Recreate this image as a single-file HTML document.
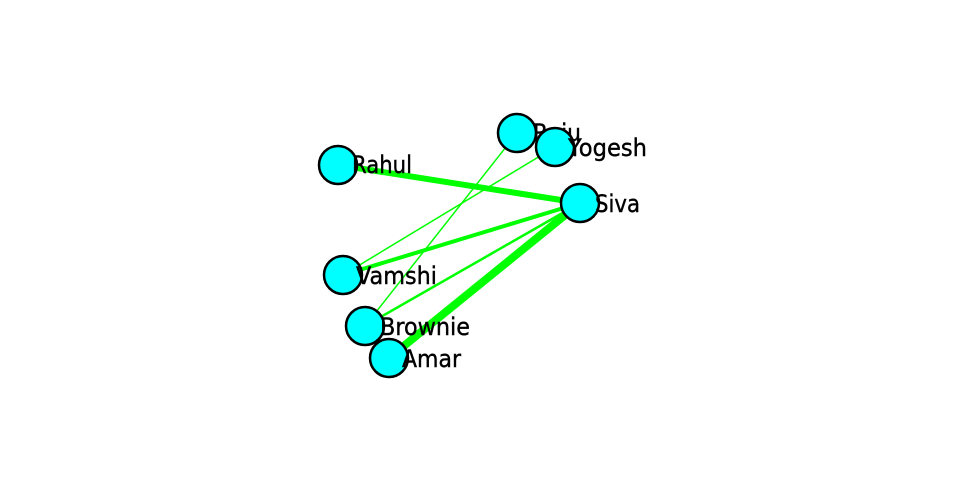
<!DOCTYPE html>
<html><head><meta charset="utf-8"><style>html,body{margin:0;padding:0;background:#fff;width:960px;height:500px;overflow:hidden}</style></head>
<body>
<svg width="960" height="500" xmlns="http://www.w3.org/2000/svg" font-family="DejaVu Sans, Liberation Sans, sans-serif" font-size="24" fill="#000">
<g stroke="#00ff00" stroke-linecap="butt">
<line x1="338" y1="165" x2="580" y2="203" stroke-width="6"/>
<line x1="343" y1="275" x2="580" y2="203" stroke-width="4"/>
<line x1="365" y1="326" x2="580" y2="203" stroke-width="2.5"/>
<line x1="389" y1="358" x2="580" y2="203" stroke-width="8"/>
<line x1="343" y1="275" x2="555" y2="147" stroke-width="1.5"/>
<line x1="365" y1="326" x2="517" y2="133" stroke-width="1.5"/>
</g>
<g stroke="#000" stroke-width="2.5">
<circle cx="338" cy="165" r="19" fill="#00ffff"/><text x="352" y="173" stroke="#000" stroke-width="0.4" textLength="60" lengthAdjust="spacingAndGlyphs">Rahul</text>
<circle cx="517" cy="133" r="19" fill="#00ffff"/><text x="533" y="141" stroke="#000" stroke-width="0.4" textLength="48" lengthAdjust="spacingAndGlyphs">Raju</text>
<circle cx="555" cy="147" r="19" fill="#00ffff"/><text x="568" y="156" stroke="#000" stroke-width="0.4" textLength="79" lengthAdjust="spacingAndGlyphs">Yogesh</text>
<circle cx="580" cy="203" r="19" fill="#00ffff"/><text x="595" y="212" stroke="#000" stroke-width="0.4" textLength="45" lengthAdjust="spacingAndGlyphs">Siva</text>
<circle cx="343" cy="275" r="19" fill="#00ffff"/><text x="356" y="284" stroke="#000" stroke-width="0.4" textLength="81" lengthAdjust="spacingAndGlyphs">Vamshi</text>
<circle cx="365" cy="326" r="19" fill="#00ffff"/><text x="380" y="335" stroke="#000" stroke-width="0.4" textLength="90" lengthAdjust="spacingAndGlyphs">Brownie</text>
<circle cx="389" cy="358" r="19" fill="#00ffff"/><text x="402" y="367" stroke="#000" stroke-width="0.4" textLength="59" lengthAdjust="spacingAndGlyphs">Amar</text>
</g>
</svg>
</body></html>
